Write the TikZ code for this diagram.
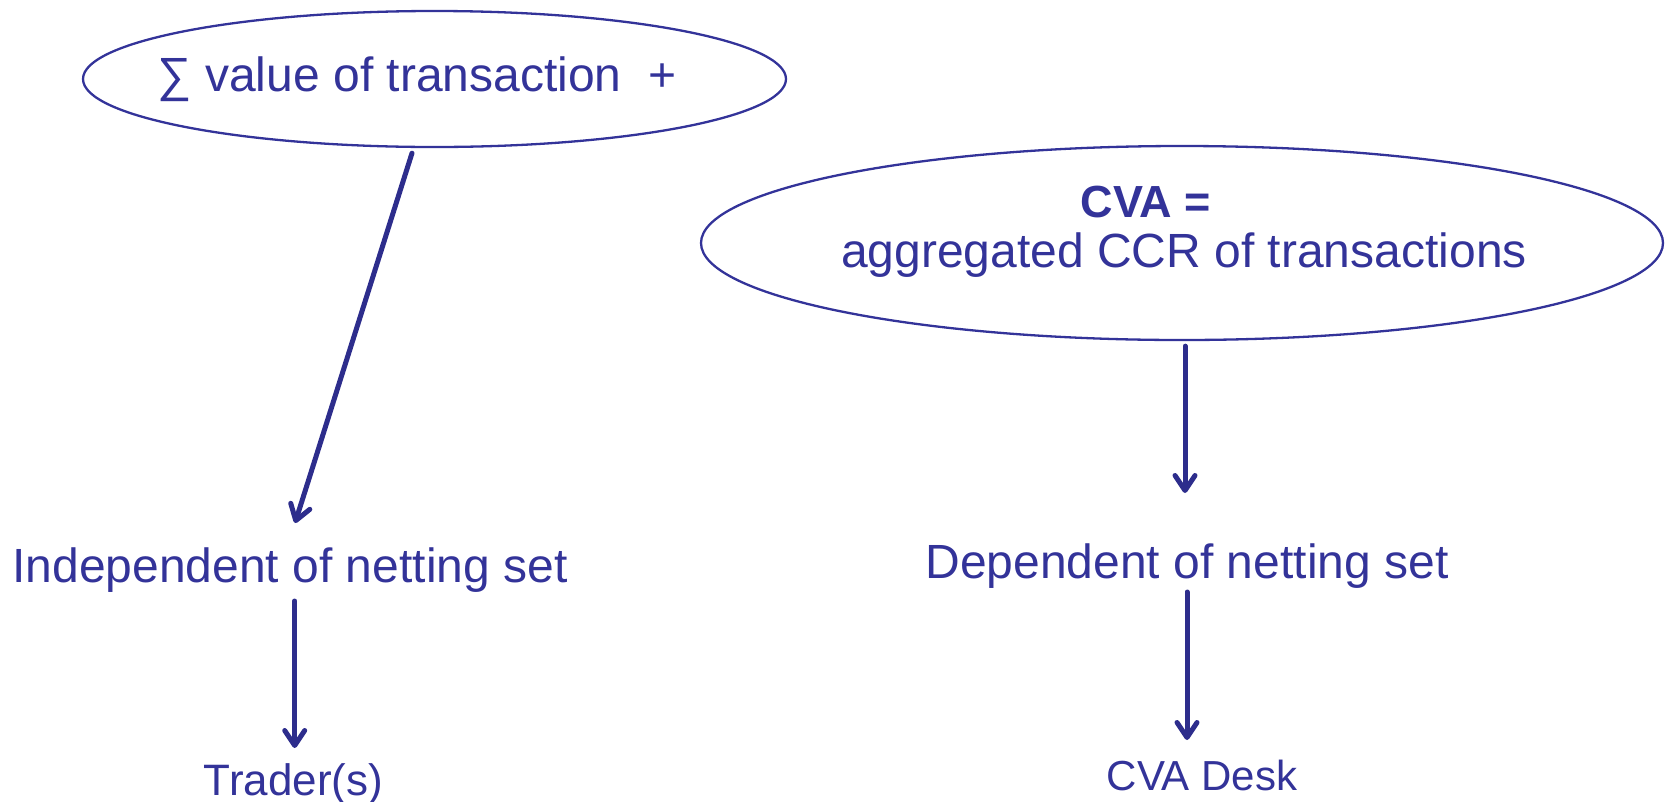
\documentclass[tikz,border=0pt]{standalone}
\usepackage{fontspec}
\setmainfont{Liberation Sans}
\usetikzlibrary{shapes.geometric,arrows.meta,calc}
\definecolor{txtblue}{RGB}{51,51,153}
\definecolor{lineblue}{RGB}{45,45,140}
\tikzset{
  oval/.style={ellipse, draw=txtblue, line width=2.3pt, inner sep=0pt},
  lbl/.style={text=txtblue, inner sep=0pt, anchor=base, font=\fontsize{48}{58}\selectfont},
  smalllbl/.style={lbl, font=\fontsize{44}{52}\selectfont},
  arr/.style={draw=lineblue, line width=5pt, line cap=round,
    -{Straight Barb[length=15pt,width=20pt,round]}}
}
\begin{document}
\begin{tikzpicture}[x=1pt,y=-1pt]
\path[use as bounding box] (0,0) rectangle (1665,801);

% left branch
\node[oval, minimum width=703pt, minimum height=136pt] (e1) at (434.5,79) {};
\node[lbl] (t1) at (417,91) {∑ value of transaction~~+};
\node[lbl] (indep) at (290,582) {Independent of netting set};
\node[smalllbl] (trader) at (293.5,795) {Trader(s)};

% right branch
\node[oval, minimum width=962pt, minimum height=194pt] (e2) at (1182,243) {};
\node[lbl, font=\fontsize{45}{54}\selectfont\bfseries] (cva) at (1146,217) {CVA =};
\node[lbl] (agg) at (1184,267) {aggregated CCR of transactions};
\node[lbl] (dep) at (1187,578) {Dependent of netting set};
\node[smalllbl, font=\fontsize{42}{50}\selectfont] (desk) at (1202,790) {CVA Desk};

% connectors
\draw[arr] ($(e1.south)+(-22.5,5)$) -- ($(indep.base)+(5,-59)$);
\draw[arr] ($(indep.base)+(4.7,19)$) -- ($(trader.base)+(1.2,-47)$);
\draw[arr] ($(e2.south)+(3,5)$) -- ($(dep.base)+(-2,-85)$);
\draw[arr] ($(dep.base)+(0,14)$) -- ($(desk.base)+(-15,-50)$);
\end{tikzpicture}
\end{document}
